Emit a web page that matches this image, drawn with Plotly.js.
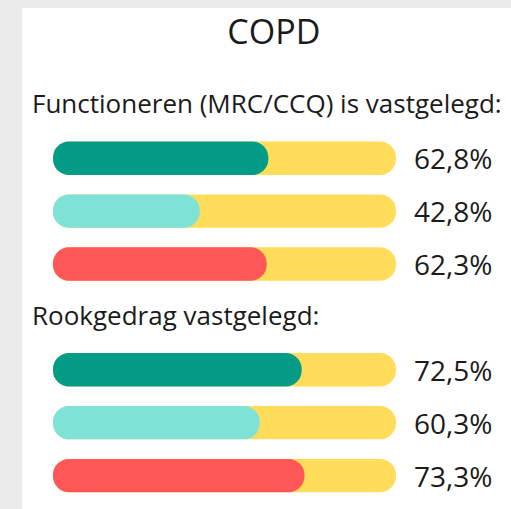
<!DOCTYPE html>
<html>
<head>
<meta charset="utf-8">
<script src="https://cdn.plot.ly/plotly-3.0.1.min.js"></script>
<style>
  html, body { margin: 0; padding: 0; background: #ebebeb; }
  #chart { position: absolute; left: 22px; top: 8px; width: 489px; height: 501px; }
</style>
</head>
<body>
<div id="chart"></div>
<script>
  const chartTitle = "COPD";
  const groupLabels = ["Functioneren (MRC/CCQ) is vastgelegd:", "Rookgedrag vastgelegd:"];
  const functioneren = [62.8, 42.8, 62.3];
  const rookgedrag = [72.5, 60.3, 73.3];
  const rowColors = ["#049c86", "#7ee3d6", "#ff5757"];
  const trackColor = "#ffdd5a";
  const maxValue = 100;

  const textColor = "#1b1b1b";
  const fontFamily = "'Open Sans', Lato, sans-serif";

  // build category slots: one heading slot per group, then one per bar
  const groupValues = [functioneren, rookgedrag];
  const categories = [];
  const rowKeys = [];
  const rowValues = [];
  const rowFill = [];
  groupValues.forEach(function (values, g) {
    categories.push("h" + g);
    values.forEach(function (v, i) {
      const key = "r" + g + "-" + i;
      categories.push(key);
      rowKeys.push(key);
      rowValues.push(v);
      rowFill.push(rowColors[i]);
    });
  });

  function pill(values, colors) {
    return {
      type: "bar",
      orientation: "h",
      y: rowKeys,
      x: values,
      base: 0,
      width: 0.63,
      marker: { color: colors, cornerradius: "50%", line: { width: 0 } },
      hoverinfo: "skip"
    };
  }

  const track = rowKeys.map(function () { return maxValue; });
  const traces = [pill(track, trackColor), pill(rowValues, rowFill)];

  const annotations = [];
  groupLabels.forEach(function (label, g) {
    annotations.push({
      xref: "paper", x: 0, xanchor: "left", xshift: -23,
      y: "h" + g, yanchor: "middle", yshift: 2,
      text: label, showarrow: false,
      font: { family: fontFamily, size: 26, color: textColor }
    });
  });
  rowKeys.forEach(function (key, i) {
    annotations.push({
      x: maxValue, xanchor: "left", xshift: 16,
      y: key, yanchor: "middle",
      text: rowValues[i].toFixed(1).replace(".", ",") + "%",
      showarrow: false,
      font: { family: fontFamily, size: 28, color: textColor }
    });
  });

  const layout = {
    width: 489,
    height: 501,
    margin: { l: 31, r: 115, t: 18, b: 7 },
    paper_bgcolor: "#ffffff",
    plot_bgcolor: "#ffffff",
    barmode: "overlay",
    showlegend: false,
    title: {
      text: chartTitle,
      x: 0.515, xanchor: "center",
      y: 0.952, yref: "container", yanchor: "middle",
      font: { family: fontFamily, size: 34, color: textColor }
    },
    xaxis: { range: [0, maxValue], visible: false, fixedrange: true },
    yaxis: {
      type: "category",
      categoryorder: "array",
      categoryarray: categories,
      range: [categories.length - 0.5, -1.5],
      visible: false,
      fixedrange: true
    },
    annotations: annotations
  };

  Plotly.newPlot("chart", traces, layout, { displayModeBar: false, staticPlot: true });
</script>
</body>
</html>
